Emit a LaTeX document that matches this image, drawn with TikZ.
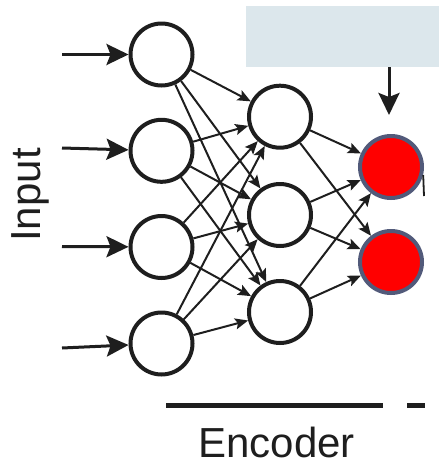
\documentclass[tikz,border=0pt]{standalone}
\usepackage{fontspec}
\setmainfont{Liberation Sans}
\usetikzlibrary{arrows.meta}
\definecolor{panel}{RGB}{220,231,236}
\definecolor{codeedge}{RGB}{82,90,122}
\definecolor{codefill}{RGB}{255,0,0}
\definecolor{ink}{RGB}{30,30,30}
\begin{document}
\begin{tikzpicture}[x=1pt,y=-1pt,
  neuron/.style={circle,draw=ink,line width=4pt,minimum size=62pt,inner sep=0pt,fill=white},
  codeunit/.style={circle,draw=codeedge,fill=codefill,line width=4pt,minimum size=62pt,inner sep=0pt},
  link/.style={draw=ink,line width=2pt,-{Stealth[length=13pt,width=11pt,inset=2.5pt]}},
  feed/.style={draw=ink,line width=3pt,-{Stealth[length=22pt,width=21pt,inset=4pt]}},
  label/.style={font=\fontsize{42}{50}\selectfont,text=ink,inner sep=0pt},
  bar/.style={draw=ink,line width=5pt}]
\useasboundingbox (0,0) rectangle (439,464);

% header panel above the code layer
\fill[panel] (246,6) rectangle (439,67);

% input layer
\node[neuron] (i1) at (161.5,54.5) {};
\node[neuron] (i2) at (161.5,150.8) {};
\node[neuron] (i3) at (161.5,247) {};
\node[neuron] (i4) at (161.5,343.5) {};

% hidden layer
\node[neuron] (h1) at (280,116.7) {};
\node[neuron] (h2) at (280,215) {};
\node[neuron] (h3) at (280,312) {};

% code layer
\node[codeunit] (c1) at (391,167) {};
\node[codeunit] (c2) at (391,262) {};

% external inputs
\coordinate (s1) at (62,54.5);
\coordinate (s2) at (62,148);
\coordinate (s3) at (62,246.5);
\coordinate (s4) at (62,348);
\foreach \i in {1,...,4} \draw[feed] (s\i) -- (i\i);

% fully connected layers
\foreach \i in {1,...,4}
  \foreach \h in {1,2,3}
    \draw[link] (i\i) -- (h\h);
\foreach \h in {1,2,3}
  \foreach \c in {1,2}
    \draw[link] (h\h) -- (c\c);

% signal from the panel into the code layer
\coordinate (p0) at (389,67);
\coordinate (p1) at (389,115);
\draw[feed] (p0) -- (p1);

% edge of an outgoing connection
\coordinate (f1) at (423.2,175);
\coordinate (f2) at (424,196);
\draw[ink,line width=1.8pt] (f1) -- (f2);

% labels and brackets
\node[label,rotate=90,anchor=base] (inlab) at (41,195) {Input};
\coordinate (e1) at (166,405);
\coordinate (e2) at (383,405);
\coordinate (d1) at (407,405);
\coordinate (d2) at (425,405);
\draw[bar] (e1) -- (e2);
\draw[bar] (d1) -- (d2);
\node[label,anchor=base,text depth=0pt] (enc) at (276.5,457.5) {Encoder};
\end{tikzpicture}
\end{document}
